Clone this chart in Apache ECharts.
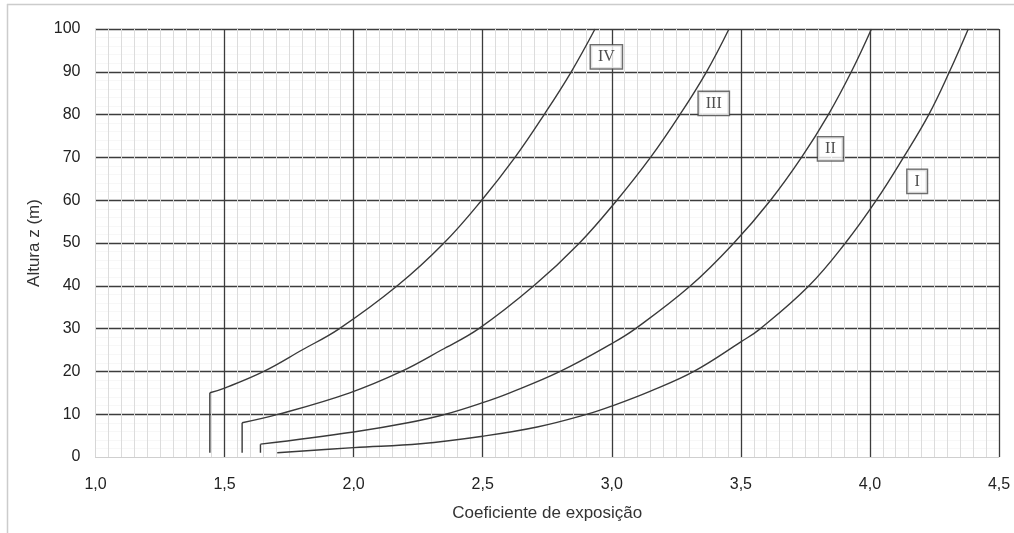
<!DOCTYPE html>
<html>
<head>
<meta charset="utf-8">
<script src="https://cdn.jsdelivr.net/npm/echarts@6/dist/echarts.min.js"></script>
<style>
html,body{margin:0;padding:0;background:#fff;}
#chart{width:1014px;height:533px;}
</style>
</head>
<body>
<div id="chart"></div>
<script>
// Curve names (terrain categories)
const curveNames = ['IV', 'III', 'II', 'I'];

// Coefficient of exposure (x) and height z (m)
const ceIV = [1.443, 1.443, 1.50, 1.652, 1.80, 1.945, 2.169, 2.350, 2.496, 2.625, 2.738, 2.843, 2.935];
const zIV  = [1, 15, 16.1, 20, 25, 30, 40, 50, 60, 70, 80, 90, 100];

const ceIII = [1.568, 1.568, 1.710, 1.985, 2.185, 2.340, 2.485, 2.698, 2.875, 3.020, 3.150, 3.264, 3.367, 3.454];
const zIII  = [1, 8, 10, 15, 20, 25, 30, 40, 50, 60, 70, 80, 90, 100];

const ceII = [1.639, 1.639, 2.0, 2.21, 2.356, 2.5, 2.605, 2.80, 3.0, 3.092, 3.305, 3.473, 3.615, 3.735, 3.839, 3.928, 4.006];
const zII  = [1, 3, 5.85, 8, 10, 12.7, 15, 20, 26.5, 30, 40, 50, 60, 70, 80, 90, 100];

const ceI = [1.704, 2.0, 2.259, 2.5, 2.711, 2.905, 3.0, 3.150, 3.318, 3.5, 3.576, 3.764, 3.905, 4.025, 4.130, 4.228, 4.308, 4.381];
const zI  = [1, 2.2, 3.1, 4.85, 7.0, 10, 11.9, 15.4, 20, 26.9, 30, 40, 50, 60, 70, 80, 90, 100];

// Curve label anchor positions (ce, z)
const labelCe = [2.979, 3.395, 3.847, 4.183];
const labelZ  = [93.5, 82.6, 72.0, 64.4];

// Axis ranges
const xMin = 1.0, xMax = 4.5, xStep = 0.5;
const yMin = 0, yMax = 100, yStep = 10;

const curves = [[ceIV, zIV], [ceIII, zIII], [ceII, zII], [ceI, zI]];
const lineColor = '#3a3a3a';
const series = [];
curves.forEach(function (c, i) {
  const ce = c[0], z = c[1];
  const pts = ce.map(function (v, k) { return [v, z[k]]; });
  let start = 0;
  if (ce[0] === ce[1]) {
    series.push({
      type: 'line', name: curveNames[i] + '-v', data: [pts[0], pts[1]],
      showSymbol: false, symbol: 'none', silent: true,
      lineStyle: { color: lineColor, width: 1.4 }
    });
    start = 1;
  }
  series.push({
    type: 'line', name: curveNames[i], data: pts.slice(start),
    smooth: 0.4,
    showSymbol: false, symbol: 'none', silent: true,
    lineStyle: { color: lineColor, width: 1.4 }
  });
});
series.push({
  type: 'scatter',
  data: labelCe.map(function (v, k) { return { value: [v, labelZ[k]], name: curveNames[k] }; }),
  symbolSize: 0,
  z: 10,
  label: {
    show: true, position: 'inside',
    formatter: function (p) { return p.name; },
    fontFamily: '"Liberation Serif", "DejaVu Serif", serif',
    fontSize: 16, color: '#222',
    backgroundColor: '#ffffff', borderColor: '#4a4a4a', borderWidth: 1.4,
    padding: [4, 7, 3, 7]
  }
});

const fmt = function (v) { return v.toFixed(1).replace('.', ','); };

const chart = echarts.init(document.getElementById('chart'), null, { renderer: 'canvas' });
chart.setOption({
  animation: false,
  backgroundColor: '#fff',
  grid: { left: 95.5, right: 15, top: 29, bottom: 76, containLabel: false },
  xAxis: {
    type: 'value', min: xMin, max: xMax, interval: xStep,
    name: 'Coeficiente de exposição', nameLocation: 'middle', nameGap: 48,
    nameTextStyle: { fontFamily: '"Liberation Sans", Arial, sans-serif', fontSize: 17, color: '#333' },
    axisLine: { show: true, lineStyle: { color: '#cfcfcf', width: 1 } },
    axisTick: { show: false },
    axisLabel: { formatter: fmt, margin: 20, fontFamily: '"Liberation Sans", Arial, sans-serif', fontSize: 16, color: '#222' },
    splitLine: { show: true, showMinLine: false, lineStyle: { color: '#3c3c3c', width: 1.3 } },
    minorTick: { show: true, splitNumber: 10, length: 0, lineStyle: { opacity: 0 } },
    minorSplitLine: { show: true, lineStyle: { color: '#dcdcdc', width: 1 } }
  },
  yAxis: {
    type: 'value', min: yMin, max: yMax, interval: yStep,
    name: 'Altura z (m)', nameLocation: 'middle', nameGap: 53, nameRotate: 90,
    nameTextStyle: { fontFamily: '"Liberation Sans", Arial, sans-serif', fontSize: 17, color: '#333' },
    axisLine: { show: true, lineStyle: { color: '#d6d6d6', width: 1 } },
    axisTick: { show: false },
    axisLabel: { margin: 15, fontFamily: '"Liberation Sans", Arial, sans-serif', fontSize: 16, color: '#222' },
    splitLine: { show: true, showMinLine: false, lineStyle: { color: '#3c3c3c', width: 1.3 } },
    minorTick: { show: true, splitNumber: 5, length: 0, lineStyle: { opacity: 0 } },
    minorSplitLine: { show: true, lineStyle: { color: '#f7f7f7', width: 1 } }
  },
  graphic: [
    { type: 'line', shape: { x1: 7, y1: 4.5, x2: 1014, y2: 4.5 }, style: { stroke: '#cccccc', lineWidth: 1.5 }, silent: true },
    { type: 'line', shape: { x1: 7.5, y1: 4, x2: 7.5, y2: 533 }, style: { stroke: '#cccccc', lineWidth: 1.5 }, silent: true }
  ],
  series: series
});
</script>
</body>
</html>
